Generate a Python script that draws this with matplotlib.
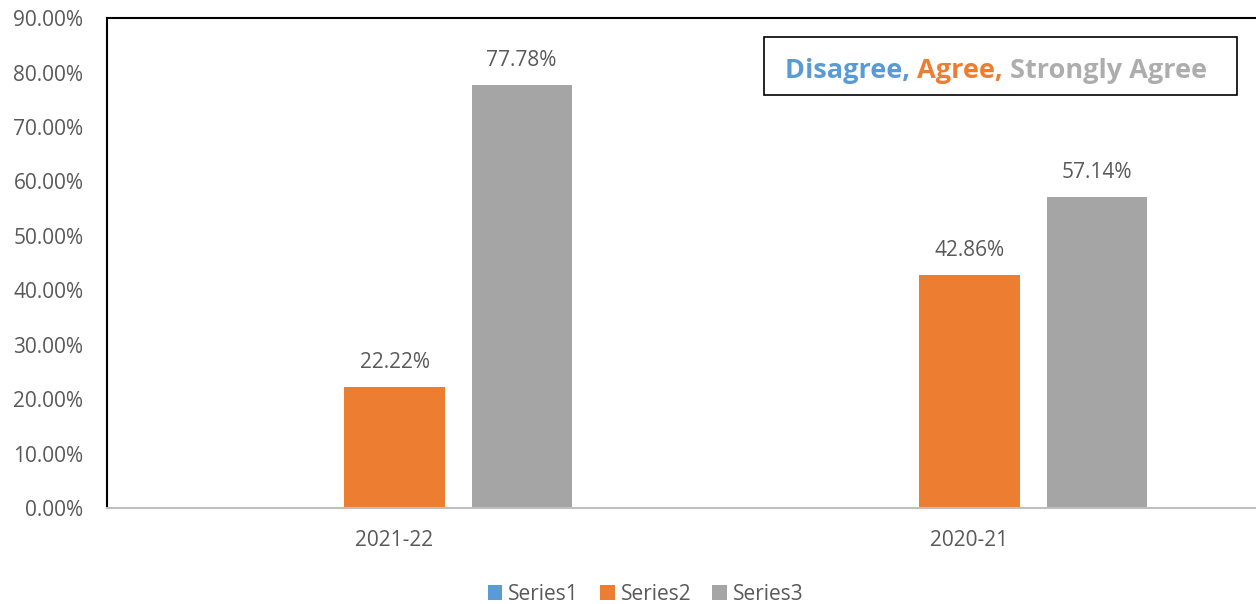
import matplotlib.pyplot as plt
import numpy as np
from matplotlib.patches import Rectangle

# data
categories = ['2021-22', '2020-21']
series_names = ['Series1', 'Series2', 'Series3']
series1 = [0.0, 0.0]
series2 = [22.22, 42.86]
series3 = [77.78, 57.14]
colors = ['#5B9BD5', '#ED7D31', '#A5A5A5']
yticks = np.arange(0, 91, 10)

plt.rcParams['font.family'] = ['Open Sans', 'DejaVu Sans']
txt = '#595959'
fs = 15

fig = plt.figure(figsize=(12.56, 6.04), dpi=100)
ax = fig.add_axes([0.0852, 0.159, 0.9156, 0.811])

x = np.arange(len(categories))
width = 0.174
offset = 0.221
for i, (vals, name) in enumerate(zip([series1, series2, series3], series_names)):
    pos = x + (i - 1) * offset
    bars = ax.bar(pos, vals, width, color=colors[i], label=name)
    for b, v in zip(bars, vals):
        if v > 0:
            ax.text(b.get_x() + b.get_width() / 2, v + 2.5, f'{v:.2f}%',
                    ha='center', va='bottom', fontsize=fs, color=txt)

ax.set_xlim(-0.5, 1.5)
ax.set_ylim(0, 90)
ax.set_yticks(yticks)
ax.set_yticklabels([f'{t:.2f}%' for t in yticks])
ax.set_xticks(x)
ax.set_xticklabels(categories)
ax.tick_params(axis='y', length=0, pad=17, labelsize=fs, labelcolor=txt)
ax.tick_params(axis='x', length=0, pad=16, labelsize=fs, labelcolor=txt)

ax.spines['left'].set_color('black')
ax.spines['left'].set_linewidth(1.5)
ax.spines['top'].set_color('black')
ax.spines['top'].set_linewidth(1.5)
ax.spines['right'].set_visible(False)
ax.spines['bottom'].set_color('#BFBFBF')
ax.spines['bottom'].set_linewidth(1.5)

# title box with coloured words
box = Rectangle((764 / 1256, 1 - 95 / 604), (1237 - 764) / 1256, 58 / 604,
                transform=fig.transFigure, facecolor='white',
                edgecolor='black', linewidth=1.2, zorder=5, clip_on=False)
ax.add_patch(box)
parts = [('Disagree, ', colors[0]), ('Agree, ', colors[1]), ('Strongly Agree', '#ADADAD')]
t = ax.text(785 / 1256, 1 - 78 / 604, parts[0][0], color=parts[0][1], transform=fig.transFigure,
            fontsize=19.5, fontweight='bold', va='baseline', zorder=6)
for s, c in parts[1:]:
    t = ax.annotate(s, xy=(1, 0), xycoords=t, xytext=(0, 0), textcoords='offset points',
                    color=c, fontsize=19.5, fontweight='bold', va='bottom', zorder=6)

leg = fig.legend(loc='center', bbox_to_anchor=(0.514, 1 - 594 / 604), ncol=3,
                 frameon=False, fontsize=fs, handlelength=0.7, handleheight=0.7,
                 handletextpad=0.3, columnspacing=1.0)
for tx in leg.get_texts():
    tx.set_color(txt)

plt.savefig('out.png', dpi=100)
